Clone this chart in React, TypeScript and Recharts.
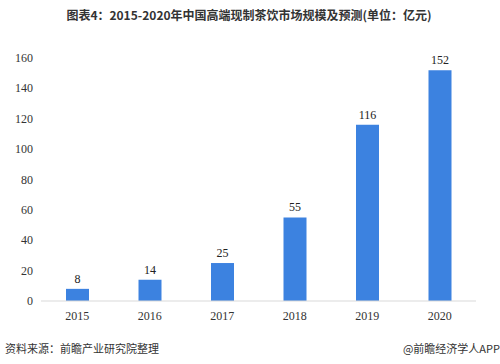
import React from "react";
import { BarChart, Bar, XAxis, YAxis, LabelList } from "recharts";

const years = ["2015", "2016", "2017", "2018", "2019", "2020"];
const marketSize = [8, 14, 25, 55, 116, 152];
const yTicks = [0, 20, 40, 60, 80, 100, 120, 140, 160];

const data = years.map((year, i) => ({ year, value: marketSize[i] }));

const SERIF = "'Liberation Serif', 'DejaVu Serif', serif";
const CJK = "'Noto Sans CJK SC', 'Noto Sans', sans-serif";

// y labels drawn by hand so the serif face sticks
const YTick = (props: any) => {
  const { x, y, payload } = props;
  return (
    <text
      x={x}
      y={y}
      dy={4}
      textAnchor="end"
      fontFamily={SERIF}
      fontSize={12}
      fill="#333"
    >
      {payload.value}
    </text>
  );
};

export default function App() {
  return (
    <div
      style={{
        position: "absolute",
        left: 0,
        top: 0,
        width: 500,
        height: 364,
        background: "#fff",
        overflow: "hidden",
        fontFamily: SERIF,
      }}
    >
      {/* title */}
      <div
        style={{
          position: "absolute",
          top: 6,
          left: 0,
          width: 498,
          textAlign: "center",
          fontFamily: CJK,
          fontWeight: "bold",
          fontSize: 12,
          color: "#333",
        }}
      >
        图表4：2015-2020年中国高端现制茶饮市场规模及预测(单位：亿元)
      </div>

      <div style={{ position: "absolute", left: 0, top: 0 }}>
        <BarChart
          width={500}
          height={364}
          data={data}
          margin={{ top: 58, right: 24, left: 0, bottom: 33 }}
        >
          <XAxis
            dataKey="year"
            height={30}
            tickLine={false}
            axisLine={{ stroke: "#d9d9d9" }}
            tick={{ fontFamily: SERIF, fontSize: 12, fill: "#333" }}
            tickMargin={4}
          />
          <YAxis
            width={41}
            domain={[0, 160]}
            ticks={yTicks}
            axisLine={false}
            tickLine={false}
            tick={<YTick />}
          />
          <Bar dataKey="value" fill="#3c82e0" barSize={23} isAnimationActive={false}>
            <LabelList
              dataKey="value"
              position="top"
              offset={6}
              style={{ fontFamily: SERIF, fontSize: 12, fill: "#222" }}
            />
          </Bar>
        </BarChart>
      </div>

      {/* footer */}
      <div
        style={{
          position: "absolute",
          top: 340,
          left: 5,
          fontFamily: CJK,
          fontSize: 11,
          color: "#333",
        }}
      >
        资料来源：前瞻产业研究院整理
      </div>
      <div
        style={{
          position: "absolute",
          top: 340,
          right: 0,
          fontFamily: CJK,
          fontSize: 11,
          color: "#333",
        }}
      >
        @前瞻经济学人APP
      </div>
    </div>
  );
}
